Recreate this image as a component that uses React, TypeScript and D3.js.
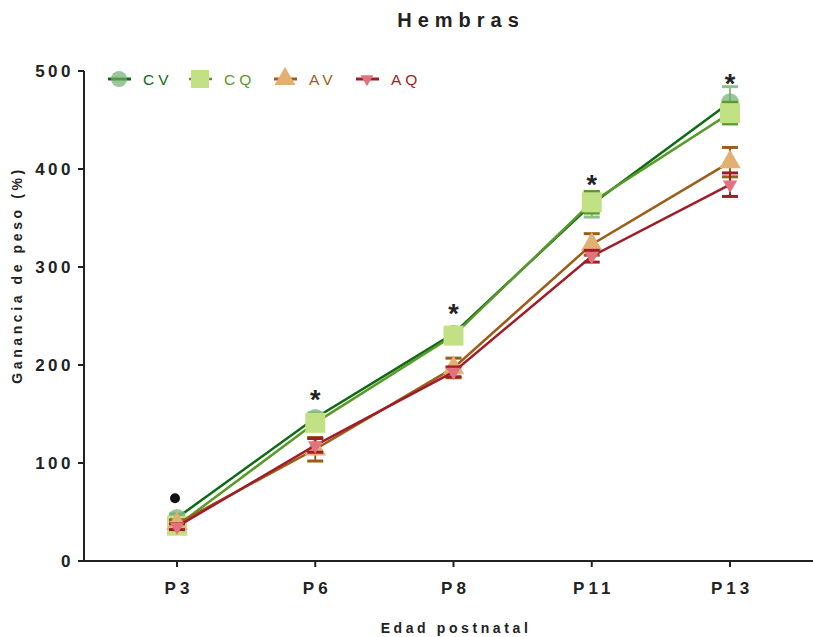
import React from "react";
import * as d3 from "d3";

const categories = ["P3", "P6", "P8", "P11", "P13"];
const cvMean = [44, 146, 232, 364, 468];
const cvErr = [4, 5, 4, 13, 16];
const cqMean = [36, 141, 230, 366, 457];
const cqErr = [3, 6, 5, 11, 11];
const avMean = [38, 114, 197, 323, 407];
const avErr = [4, 12, 10, 11, 15];
const aqMean = [35, 118, 193, 311, 384];
const aqErr = [3, 7, 5, 6, 12];
const yTicks = [0, 100, 200, 300, 400, 500];
const starCats = ["P6", "P8", "P11", "P13"];
const starLevels = [168, 256, 388, 491];
const dotCats = ["P3"];
const dotLevels = [64];

const W = 813;
const H = 637;
const FONT = "'Liberation Sans', Arial, Helvetica, sans-serif";

type Series = {
  name: string;
  mean: number[];
  err: number[];
  line: string;
  fill: string;
  errColor: string;
  shape: "circle" | "square" | "tri" | "triDown";
  fillOpacity: number;
};

const series: Series[] = [
  { name: "CV", mean: cvMean, err: cvErr, line: "#0f6a14", fill: "#6fae6f", errColor: "#8cc08c", shape: "circle", fillOpacity: 0.7 },
  { name: "CQ", mean: cqMean, err: cqErr, line: "#5a9a2a", fill: "#c2e184", errColor: "#5a9a2a", shape: "square", fillOpacity: 1 },
  { name: "AV", mean: avMean, err: avErr, line: "#9c5d16", fill: "#e1b072", errColor: "#9c5d16", shape: "tri", fillOpacity: 1 },
  { name: "AQ", mean: aqMean, err: aqErr, line: "#a01c28", fill: "#e2727e", errColor: "#a01c28", shape: "triDown", fillOpacity: 1 },
];

function Marker({ s, x, y, legend }: { s: Series; x: number; y: number; legend?: boolean }) {
  if (s.shape === "circle") {
    return <circle cx={x} cy={y} r={legend ? 8 : 9} fill={s.fill} fillOpacity={s.fillOpacity} />;
  }
  if (s.shape === "square") {
    const h = legend ? 9 : 10;
    return <rect x={x - h} y={y - h} width={2 * h} height={2 * h} fill={s.fill} />;
  }
  if (s.shape === "tri") {
    const p = d3.symbol(d3.symbolTriangle, legend ? 190 : 200)();
    return <path d={p || ""} transform={`translate(${x},${y})`} fill={s.fill} />;
  }
  const p = d3.symbol(d3.symbolTriangle, legend ? 70 : 90)();
  return <path d={p || ""} transform={`translate(${x},${y}) rotate(180)`} fill={s.fill} />;
}

export default function App() {
  const x = d3.scalePoint<string>().domain(categories).range([177, 730]);
  const y = d3.scaleLinear().domain([0, 500]).range([561, 71]);
  const axisX0 = 84;
  const axisX1 = 813;

  const lineGen = (vals: number[]) =>
    d3
      .line<number>()
      .x((_, i) => x(categories[i]) as number)
      .y((v) => y(v))(vals) || "";

  const legendX = [119, 200, 285, 367];
  const legendY = 79;

  return (
    <svg width={W} height={H} style={{ position: "absolute", left: 0, top: 0 }} fontFamily={FONT}>
      <rect width={W} height={H} fill="#fff" />
      {/* title */}
      <text x={461} y={27} textAnchor="middle" fontSize={20} fontWeight="bold" letterSpacing={6} fill="#222">
        Hembras
      </text>

      {/* y axis */}
      <line x1={axisX0} x2={axisX0} y1={y(500)} y2={y(0) + 1} stroke="#222" strokeWidth={2} />
      {yTicks.map((t) => (
        <g key={t}>
          <line x1={axisX0 - 6} x2={axisX0} y1={y(t)} y2={y(t)} stroke="#222" strokeWidth={2} />
          <text x={axisX0 - 10} y={y(t) + 6} textAnchor="end" fontSize={17} fontWeight="bold" letterSpacing={3.5} fill="#222">
            {t}
          </text>
        </g>
      ))}
      <text
        transform={`translate(22,${275}) rotate(-90)`}
        textAnchor="middle"
        fontSize={14}
        fontWeight="bold"
        letterSpacing={3.6}
        fill="#222"
      >
        Ganancia de peso (%)
      </text>

      {/* x axis */}
      <line x1={axisX0 - 1} x2={axisX1} y1={y(0)} y2={y(0)} stroke="#222" strokeWidth={2} />
      {categories.map((c) => (
        <g key={c}>
          <line x1={x(c)} x2={x(c)} y1={y(0)} y2={y(0) + 6} stroke="#222" strokeWidth={2} />
          <text x={(x(c) as number) + 2} y={594} textAnchor="middle" fontSize={17} fontWeight="bold" letterSpacing={4} fill="#222">
            {c}
          </text>
        </g>
      ))}
      <text x={456} y={633} textAnchor="middle" fontSize={14} fontWeight="bold" letterSpacing={3.6} fill="#222">
        Edad postnatal
      </text>

      {/* series */}
      {series.map((s) => (
        <g key={s.name}>
          <path d={lineGen(s.mean)} fill="none" stroke={s.line} strokeWidth={2.5} />
          {s.mean.map((m, i) => {
            const cx = x(categories[i]) as number;
            const e = s.err[i];
            return (
              <g key={i}>
                <line x1={cx} x2={cx} y1={y(m - e)} y2={y(m + e)} stroke={s.errColor} strokeWidth={2} />
                <line x1={cx - 8} x2={cx + 8} y1={y(m + e)} y2={y(m + e)} stroke={s.errColor} strokeWidth={3} />
                <line x1={cx - 8} x2={cx + 8} y1={y(m - e)} y2={y(m - e)} stroke={s.errColor} strokeWidth={3} />
                <Marker s={s} x={cx} y={y(m)} />
              </g>
            );
          })}
        </g>
      ))}

      {/* significance marks */}
      {starCats.map((c, i) => (
        <text key={c} x={x(c)} y={y(starLevels[i]) + 13} textAnchor="middle" fontSize={27} fontWeight="bold" fill="#222">
          *
        </text>
      ))}
      {dotCats.map((c, i) => (
        <circle key={c} cx={(x(c) as number) - 2} cy={y(dotLevels[i])} r={5} fill="#111" />
      ))}

      {/* legend */}
      {series.map((s, i) => (
        <g key={s.name}>
          <line x1={legendX[i] - 11} x2={legendX[i] + 12} y1={legendY} y2={legendY} stroke={s.line} strokeWidth={s.name === "CQ" ? 2.5 : 3} />
          <Marker s={s} x={legendX[i]} y={legendY} legend />
          <text x={legendX[i] + 24} y={legendY + 6} fontSize={15.5} letterSpacing={4} fill={s.line}>
            {s.name}
          </text>
        </g>
      ))}
    </svg>
  );
}
